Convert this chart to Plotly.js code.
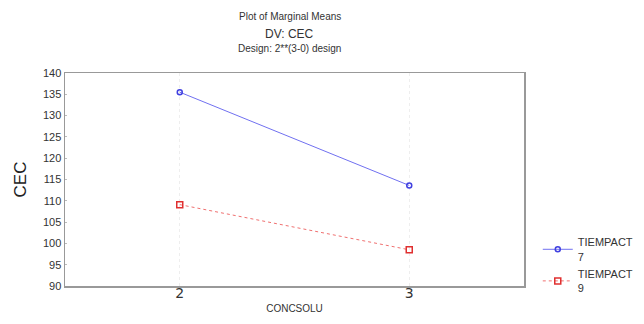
<!DOCTYPE html>
<html>
<head>
<meta charset="utf-8">
<script src="https://cdn.plot.ly/plotly-3.0.1.min.js"></script>
<style>html,body{margin:0;padding:0;background:#fff;}#chart{width:644px;height:324px;}</style>
</head>
<body>
<div id="chart"></div>
<script>
var categories = [2, 3];
var seriesNames = ["TIEMPACT<br>7", "TIEMPACT<br>9"];
var tiempact7 = [135.5, 113.6];
var tiempact9 = [109.1, 98.5];
var yTicks = [90, 95, 100, 105, 110, 115, 120, 125, 130, 135, 140];
var titleLines = ["Plot of Marginal Means", "DV: CEC", "Design: 2**(3-0) design"];

var traces = [
  {x: categories, y: tiempact7, name: seriesNames[0], type: "scatter", mode: "lines+markers",
   line: {color: "#7070f0", width: 1, dash: "solid"},
   marker: {symbol: "circle-open", size: 5, color: "#4040e0", line: {width: 1.5}}},
  {x: categories, y: tiempact9, name: seriesNames[1], type: "scatter", mode: "lines+markers",
   line: {color: "#f07070", width: 1, dash: "dot"},
   marker: {symbol: "square-open", size: 6, color: "#e03030", line: {width: 1.5}}}
];

var fnt = "Liberation Sans, Arial, sans-serif";
var layout = {
  width: 644, height: 324,
  margin: {l: 65, r: 120, t: 73, b: 38, autoexpand: false},
  paper_bgcolor: "#fff", plot_bgcolor: "#fff",
  font: {family: fnt, color: "#333"},
  showlegend: true,
  legend: {x: 1.03, y: 0.27, xanchor: "left", yanchor: "top", font: {size: 11, color: "#333"},
           tracegroupgap: 2, itemwidth: 30, bgcolor: "rgba(0,0,0,0)"},
  xaxis: {range: [1.5, 3.5], tickvals: categories, ticktext: categories.map(String),
          tickfont: {size: 14, color: "#333", family: "DejaVu Sans, sans-serif"},
          ticklabelstandoff: -6,
          showgrid: true, gridcolor: "#eeeeee", griddash: "dot", gridwidth: 1,
          zeroline: false, showline: true, mirror: true, linecolor: "#999", linewidth: 1.5,
          ticks: "", ticklen: 3,
          title: {text: "CONCSOLU", font: {size: 10, color: "#333"}, standoff: 4}},
  yaxis: {range: [90, 140], tickvals: yTicks,
          tickfont: {size: 11, color: "#333"},
          showgrid: false, zeroline: false, showline: true, mirror: true, linecolor: "#999", linewidth: 1.5,
          ticks: "inside", ticklen: 2, tickcolor: "#bbb",
          title: {text: "CEC", font: {size: 17, color: "#222"}, standoff: 12}},
  annotations: [
    {text: titleLines[0], xref: "paper", yref: "paper", x: 0.49, y: 1.0, yshift: 64, showarrow: false, font: {size: 10, color: "#333"}},
    {text: titleLines[1], xref: "paper", yref: "paper", x: 0.49, y: 1.0, yshift: 48, showarrow: false, font: {size: 12, color: "#333"}},
    {text: titleLines[2], xref: "paper", yref: "paper", x: 0.49, y: 1.0, yshift: 32, showarrow: false, font: {size: 10, color: "#333"}}
  ]
};
Plotly.newPlot("chart", traces, layout, {displayModeBar: false, staticPlot: true});
</script>
</body>
</html>
